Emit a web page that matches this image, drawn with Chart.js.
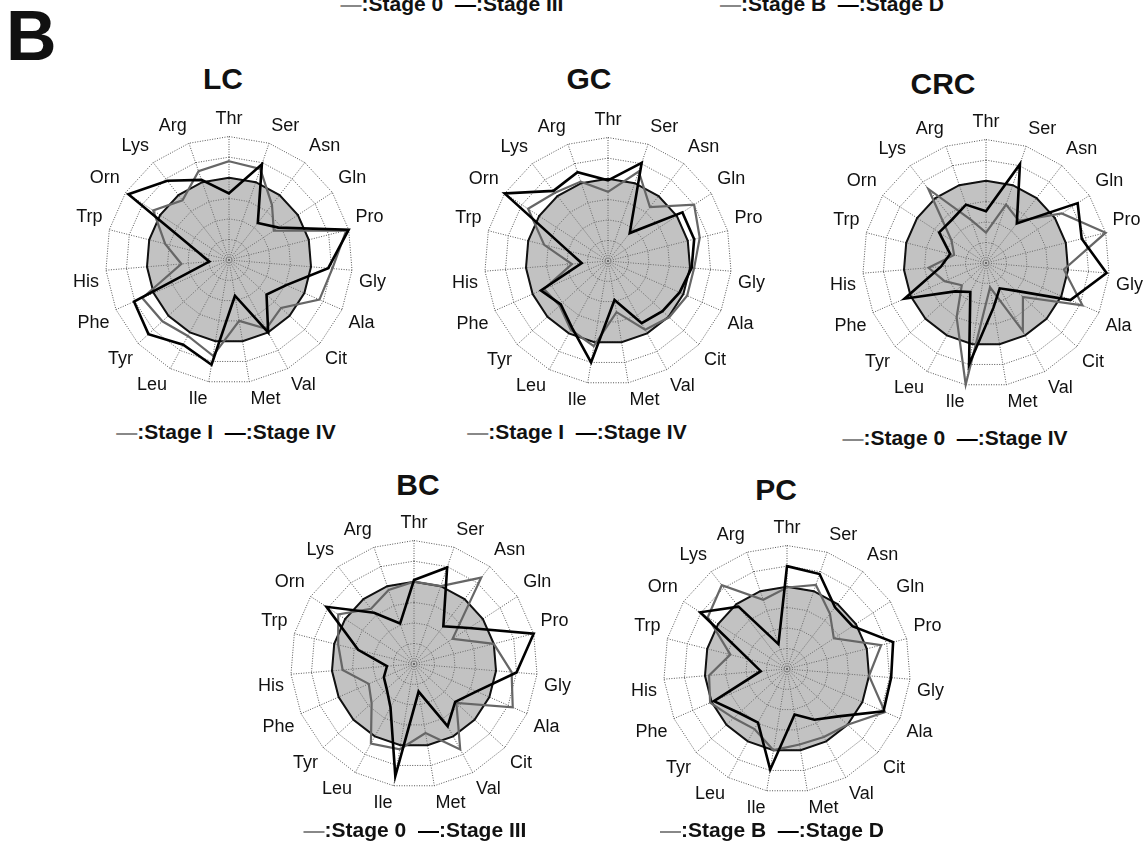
<!DOCTYPE html>
<html lang="en">
<head>
<meta charset="UTF-8">
<title>Plasma amino acid radar charts</title>
<script src="https://cdn.jsdelivr.net/npm/chart.js"></script>
<style>
  body { margin: 0; width: 1144px; height: 852px; background: #fff; position: relative; overflow: hidden;
         font-family: "Liberation Sans", Arial, sans-serif; color: #111; }
  .abs { position: absolute; }
  .title { font-weight: bold; font-size: 30px; transform: translateX(-50%); white-space: nowrap; }
  .legend { font-weight: bold; font-size: 21px; transform: translateX(-50%); white-space: nowrap; }
  .legend .g { color: #888; }
  .legend .k { color: #000; }
  canvas { position: absolute; }
</style>
</head>
<body>
  <div class="abs legend" style="left:452px; top:-8px;"><span class="g">&mdash;</span>:Stage 0 &nbsp;<span class="k">&mdash;</span>:Stage III</div>
  <div class="abs legend" style="left:832px; top:-8px;"><span class="g">&mdash;</span>:Stage B &nbsp;<span class="k">&mdash;</span>:Stage D</div>
  <div class="abs" style="left:6px; top:-4px; font-weight:bold; font-size:70px;">B</div>

  <div class="abs title" style="left:223px; top:62px;">LC</div>
  <div class="abs title" style="left:589px; top:62px;">GC</div>
  <div class="abs title" style="left:943px; top:67px;">CRC</div>
  <div class="abs title" style="left:418px; top:468px;">BC</div>
  <div class="abs title" style="left:776px; top:473px;">PC</div>

  <canvas id="lc" width="314" height="314"></canvas>
  <canvas id="gc" width="314" height="314"></canvas>
  <canvas id="crc" width="314" height="314"></canvas>
  <canvas id="bc" width="314" height="314"></canvas>
  <canvas id="pc" width="314" height="314"></canvas>

  <div class="abs legend" style="left:226px; top:420px;"><span class="g">&mdash;</span>:Stage I &nbsp;<span class="k">&mdash;</span>:Stage IV</div>
  <div class="abs legend" style="left:577px; top:420px;"><span class="g">&mdash;</span>:Stage I &nbsp;<span class="k">&mdash;</span>:Stage IV</div>
  <div class="abs legend" style="left:955px; top:426px;"><span class="g">&mdash;</span>:Stage 0 &nbsp;<span class="k">&mdash;</span>:Stage IV</div>
  <div class="abs legend" style="left:415px; top:818px;"><span class="g">&mdash;</span>:Stage 0 &nbsp;<span class="k">&mdash;</span>:Stage III</div>
  <div class="abs legend" style="left:772px; top:818px;"><span class="g">&mdash;</span>:Stage B &nbsp;<span class="k">&mdash;</span>:Stage D</div>

<script>
// amino acids, clockwise from the top
const aminoAcids = ['Thr', 'Ser', 'Asn', 'Gln', 'Pro', 'Gly', 'Ala', 'Cit', 'Val', 'Met',
                    'Ile', 'Leu', 'Tyr', 'Phe', 'His', 'Trp', 'Orn', 'Lys', 'Arg'];

// healthy control level (shaded area)
const control = [1, 1, 1, 1, 1, 1, 1, 1, 1, 1, 1, 1, 1, 1, 1, 1, 1, 1, 1];

// radial axis: 0 .. 1.5, rings every 0.25
const scaleMax = 1.5;
const scaleStep = 0.25;

// LC
const lcStageI  = [1.20, 1.17, 0.85, 0.65, 1.47, 1.26, 1.20, 0.86, 0.95, 0.75, 1.18, 1.05, 1.10, 1.15, 0.58, 0.80, 1.10, 0.92, 1.14];
const lcStageIV = [0.81, 1.23, 0.57, 0.72, 1.50, 1.21, 0.76, 0.62, 1.00, 0.44, 1.29, 1.17, 1.33, 1.26, 0.24, 0.39, 1.46, 1.22, 1.03];
// GC
const gcStageI  = [0.84, 1.15, 0.83, 1.25, 1.15, 1.05, 1.05, 1.01, 0.95, 0.63, 1.05, 0.95, 0.80, 0.85, 0.44, 0.80, 1.16, 1.05, 1.02];
const gcStageIV = [0.98, 1.26, 0.43, 1.08, 1.08, 1.02, 0.95, 0.90, 0.86, 0.48, 1.25, 0.92, 0.78, 0.89, 0.32, 0.50, 1.50, 1.08, 1.14];
// CRC
const crcStage0  = [0.37, 0.75, 0.65, 1.10, 1.50, 0.95, 1.28, 0.61, 0.94, 0.30, 1.50, 0.75, 0.40, 0.55, 0.70, 0.40, 0.50, 1.14, 0.55];
const crcStageIV = [0.63, 1.27, 0.61, 1.33, 1.20, 1.47, 1.12, 0.50, 0.35, 0.55, 1.25, 0.40, 0.51, 1.08, 0.55, 0.45, 0.68, 0.67, 0.75];
// BC
const bcStage0   = [1.00, 1.00, 1.33, 0.56, 1.00, 1.19, 1.31, 0.70, 1.18, 0.85, 1.05, 1.10, 0.70, 0.60, 0.87, 0.95, 1.10, 0.85, 0.95];
const bcStageIII = [1.02, 1.24, 0.58, 0.80, 1.50, 1.25, 0.83, 0.68, 0.86, 0.34, 1.38, 0.60, 0.45, 0.40, 0.33, 0.70, 1.27, 0.79, 0.52];
// PC
const pcStageB = [0.99, 1.08, 0.85, 0.68, 1.18, 1.00, 1.30, 1.00, 0.94, 0.93, 1.00, 0.83, 0.88, 1.02, 0.95, 0.71, 1.15, 1.29, 0.89];
const pcStageD = [1.25, 1.22, 0.95, 0.95, 1.33, 1.27, 1.28, 0.85, 0.70, 0.56, 1.24, 0.74, 0.79, 0.97, 0.32, 0.48, 1.26, 0.96, 0.32];

const SIZE = 314;

function makeRadar(id, cx, cy, early, late) {
    const canvas = document.getElementById(id);
    canvas.style.left = (cx - SIZE / 2) + 'px';
    canvas.style.top = (cy - SIZE / 2) + 'px';
    new Chart(canvas.getContext('2d'), {
        type: 'radar',
        data: {
            labels: aminoAcids,
            datasets: [
                { data: late, borderColor: '#000', borderWidth: 2.6, fill: false, order: 1 },
                { data: early, borderColor: '#666', borderWidth: 2.2, fill: false, order: 2 },
                { data: control, borderColor: '#111', borderWidth: 2, backgroundColor: 'rgba(125,125,125,0.47)', fill: true, order: 3 }
            ]
        },
        options: {
            responsive: false,
            animation: false,
            elements: { point: { radius: 0, hoverRadius: 0 }, line: { tension: 0, borderJoinStyle: 'miter' } },
            plugins: { legend: { display: false }, tooltip: { enabled: false } },
            scales: {
                r: {
                    min: 0,
                    max: scaleMax,
                    ticks: { stepSize: scaleStep, display: false },
                    grid: { color: '#555', lineWidth: 1 },
                    border: { dash: [1, 1.5] },
                    angleLines: { color: '#555', lineWidth: 1, borderDash: [1, 1.5] },
                    pointLabels: {
                        padding: 7,
                        color: '#111',
                        font: { family: '"Liberation Sans", Arial, sans-serif', size: 18 }
                    }
                }
            }
        }
    });
}

makeRadar('lc', 230, 260, lcStageI, lcStageIV);
makeRadar('gc', 609, 261, gcStageI, gcStageIV);
makeRadar('crc', 987, 263, crcStage0, crcStageIV);
makeRadar('bc', 415, 664, bcStage0, bcStageIII);
makeRadar('pc', 788, 669, pcStageB, pcStageD);
</script>
</body>
</html>
